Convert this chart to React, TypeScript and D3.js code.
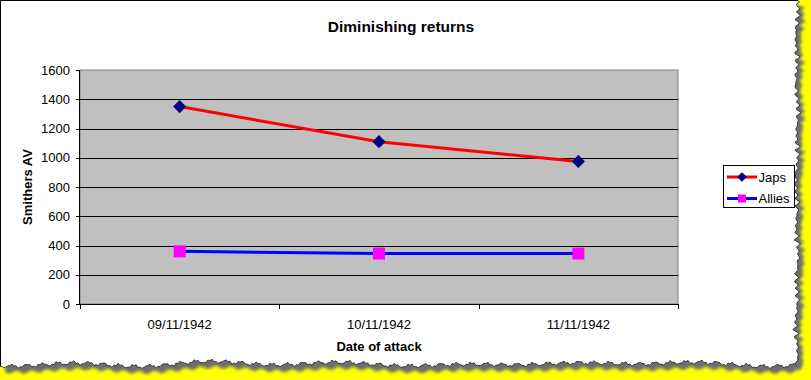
import React from 'react';
import * as d3 from 'd3';

const categories = ['09/11/1942', '10/11/1942', '11/11/1942'];
const japsValues = [1350, 1110, 975];
const alliesValues = [360, 345, 345];
const yTickValues = [0, 200, 400, 600, 800, 1000, 1200, 1400, 1600];
const seriesNames = ['Japs', 'Allies'];

const W = 811;
const H = 380;
const FONT = '"Liberation Sans", Arial, sans-serif';

function tornPath(): string {
  const pts: [number, number][] = [];
  pts.push([0, 0]);
  pts.push([797, 0]);
  for (let y = 2; y <= 364; y += 2) {
    const dx =
      1.4 * Math.sin(y * 0.91) +
      1.0 * Math.sin(y * 2.37 + 1.3) +
      0.9 * Math.sin(y * 0.13) +
      0.7 * Math.sin(y * 3.71 + 0.4) +
      0.6 * Math.sin(y * 0.047 + 2);
    pts.push([797 + dx, y]);
  }
  for (let x = 796; x >= 0; x -= 2) {
    const dy =
      1.5 * Math.sin(x * 0.41) +
      1.0 * Math.sin(x * 1.73 + 2.1) +
      1.3 * Math.sin(x * 0.05 + 0.7) +
      0.8 * Math.sin(x * 3.1 + 1.1) +
      1.0 * Math.sin(x * 0.017 + 0.3);
    pts.push([x, 364 + dy]);
  }
  pts.push([0, 366]);
  return 'M' + pts.map((p) => p[0].toFixed(1) + ',' + p[1].toFixed(1)).join('L') + 'Z';
}

export default function App() {
  const left = 80;
  const right = 678;
  const top = 70;
  const bottom = 304;

  const x = d3.scaleBand<string>().domain(categories).range([left, right]).padding(0);
  const cx = (c: string) => (x(c) as number) + x.bandwidth() / 2;
  const y = d3.scaleLinear().domain([0, 1600]).range([bottom, top]);

  const line = d3
    .line<number>()
    .x((_, i) => cx(categories[i]))
    .y((d) => y(d));

  const torn = tornPath();
  const xTickPositions = [left, ...categories.map((c) => (x(c) as number) + x.bandwidth())];

  const diamond = d3.symbol().type(d3.symbolDiamond2).size(110)();

  return (
    <svg
      width={W}
      height={H}
      style={{ position: 'absolute', left: 0, top: 0, display: 'block' }}
      fontFamily={FONT}
    >
      <defs>
        <filter id="blur" x="-5%" y="-5%" width="110%" height="110%">
          <feGaussianBlur stdDeviation="1.4" />
        </filter>
      </defs>
      <rect x={0} y={0} width={W} height={H} fill="#ffff00" />
      <path d={torn} transform="translate(5,6)" fill="#6e6e6e" filter="url(#blur)" />
      <path d={torn} fill="#ffffff" stroke="#222" strokeWidth={0.8} />
      <line x1={0.5} y1={0} x2={0.5} y2={366} stroke="#000" strokeWidth={1} />
      <line x1={0} y1={0.5} x2={798} y2={0.5} stroke="#000" strokeWidth={1} />

      <text x={401} y={32} textAnchor="middle" fontWeight="bold" fontSize={15.5} fill="#000">
        Diminishing returns
      </text>

      {/* plot area */}
      <rect x={left} y={top} width={right - left} height={bottom - top} fill="#c0c0c0" stroke="#808080" strokeWidth={1} />
      {yTickValues.filter((v) => v > 0 && v < 1600).map((v) => (
        <line key={'g' + v} x1={left} x2={right} y1={Math.round(y(v)) + 0.5} y2={Math.round(y(v)) + 0.5} stroke="#000" strokeWidth={1} />
      ))}

      {/* y axis */}
      <line x1={left - 0.5} x2={left - 0.5} y1={top} y2={bottom + 0.5} stroke="#000" />
      {yTickValues.map((v) => (
        <g key={'t' + v}>
          <line x1={left - 4} x2={left} y1={Math.round(y(v)) + 0.5} y2={Math.round(y(v)) + 0.5} stroke="#000" />
          <text x={70} y={y(v) + 4.5} textAnchor="end" fontSize={13} fill="#000">
            {v}
          </text>
        </g>
      ))}

      {/* x axis */}
      <line x1={left - 1} x2={right} y1={bottom + 0.5} y2={bottom + 0.5} stroke="#000" />
      {xTickPositions.map((p, i) => (
        <line key={'xt' + i} x1={Math.round(p) + 0.5} x2={Math.round(p) + 0.5} y1={bottom} y2={bottom + 5} stroke="#000" />
      ))}
      {categories.map((c) => (
        <text key={c} x={cx(c)} y={328.5} textAnchor="middle" fontSize={13} fill="#000">
          {c}
        </text>
      ))}

      <text x={379} y={351} textAnchor="middle" fontWeight="bold" fontSize={13} fill="#000">
        Date of attack
      </text>
      <text
        transform="translate(32,187) rotate(-90)"
        textAnchor="middle"
        fontWeight="bold"
        fontSize={13}
        fill="#000"
      >
        Smithers AV
      </text>

      {/* series */}
      <path d={line(japsValues) as string} fill="none" stroke="#ff0000" strokeWidth={3} />
      <path d={line(alliesValues) as string} fill="none" stroke="#0000ff" strokeWidth={3} />
      {japsValues.map((v, i) => (
        <path key={'jm' + i} d={diamond as string} transform={`translate(${cx(categories[i])},${y(v)})`} fill="#000080" />
      ))}
      {alliesValues.map((v, i) => (
        <rect key={'am' + i} x={cx(categories[i]) - 6} y={y(v) - 6} width={12} height={12} fill="#ff00ff" />
      ))}

      {/* legend */}
      <rect x={723.5} y={165.5} width={71} height={42} fill="#fff" stroke="#000" strokeWidth={1} />
      {seriesNames.map((name, i) => {
        const ly = 177 + i * 21.5;
        return (
          <g key={name}>
            <line x1={727} x2={757} y1={ly} y2={ly} stroke={i === 0 ? '#ff0000' : '#0000ff'} strokeWidth={3} />
            {i === 0 ? (
              <path d={d3.symbol().type(d3.symbolDiamond2).size(60)() as string} transform={`translate(742,${ly})`} fill="#000080" />
            ) : (
              <rect x={738} y={ly - 4} width={8} height={8} fill="#ff00ff" />
            )}
            <text x={758.5} y={ly + 4.5} fontSize={13} fill="#000">
              {name}
            </text>
          </g>
        );
      })}
    </svg>
  );
}
